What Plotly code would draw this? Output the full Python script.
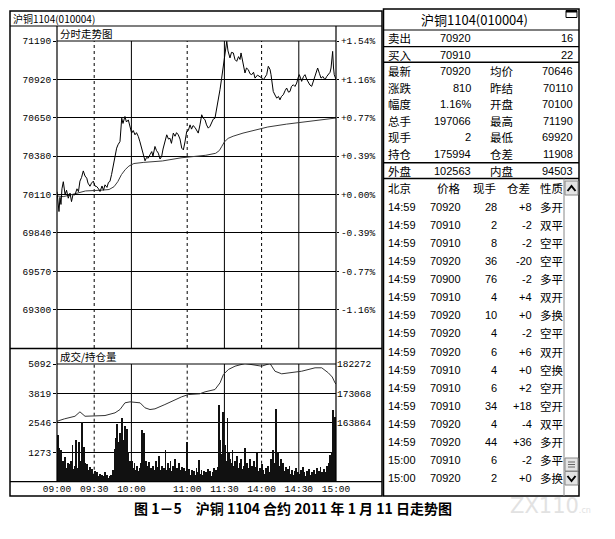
import plotly.graph_objects as go

W, H = 615, 539

# ---------------- data ----------------
time_ticks = [0, 30, 60, 105, 135, 165, 195, 225]          # trading minutes since 09:00
time_labels = ["09:00", "09:30", "10:00", "11:00", "11:30", "14:00", "14:30", "15:00"]
price_ticks = [71190, 70920, 70650, 70380, 70110, 69840, 69570, 69300]
pct_labels = ["+1.54%", "+1.16%", "+0.77%", "+0.39%", "+0.00%", "-0.39%", "-0.77%", "-1.16%"]
vol_ticks = [5092, 3819, 2546, 1273]
oi_ticks = [182272, 173068, 163864]

price_min = [0, 0.8, 1.6, 2.4, 3.2, 4, 5.1, 6.5, 7.7, 9.1, 10.5, 11.7, 12.9, 14.5, 16.1, 17.3, 18.5,
             19.8, 21.2, 22.6, 24, 25, 26.6, 27.8, 29.3, 30.6, 32, 33.5, 34.7, 36.3, 37.5, 38.7, 40.3,
             41.5, 42.7, 44, 45.4, 46.8, 48.1, 49.2, 50.8, 52.2, 53.2, 54.8, 56, 57.5, 58.9, 60.2,
             61.5, 62.9, 64.1, 65.6, 66.9, 68.3, 69.4, 71, 72.2, 73.6, 75, 76.4, 77.4, 79, 80.2, 81.7,
             83.1, 84.4, 85.5, 87.1, 88.5, 89.9, 91.1, 92.3, 93.8, 95.2, 96.4, 97.8, 99.2, 100.6,
             101.9, 103.2, 104.6, 105.9, 107.3, 108.5, 109.7, 111.3, 112.5, 113.9, 115.3, 116.7,
             117.7, 119.4, 120.6, 122, 123.4, 124.8, 126, 127.4, 128.6, 130.1, 131.5, 132.8, 133.9,
             134.9, 135.9, 136.9, 137.9, 139.5, 140.7, 142.2, 143.5, 144.9, 146.4, 147.6, 148.4, 150,
             151.6, 152.8, 154.3, 155.6, 157, 158.5, 159.7, 161.7, 163.7, 165.1, 166.4, 167.7, 169.1,
             170.4, 171.8, 172.6, 173.4, 174.4, 175.8, 177.2, 178.6, 179.8, 181, 182.5, 183.9, 185.2,
             186.7, 187.9, 189.1, 190.6, 191.9, 193.3, 194.4, 195.4, 196.4, 197.3, 198.8, 200, 201.4,
             202.7, 204, 205.4, 206.7, 208.1, 209.3, 210.2, 211.7, 212.9, 214.5, 216.1, 217.5, 218.8,
             220.2, 221, 221.8, 222.3, 223, 223.6, 224.6, 225]
price_val = [70130, 70060, 69990, 70090, 70040, 70150, 70200, 70110, 70140, 70084, 70120, 70060, 70110,
             70107, 70150, 70130, 70204, 70230, 70276, 70240, 70225, 70190, 70168, 70190, 70204, 70170,
             70166, 70150, 70131, 70170, 70140, 70178, 70160, 70195, 70202, 70250, 70318, 70380, 70436,
             70460, 70483, 70647, 70610, 70659, 70620, 70635, 70580, 70542, 70560, 70530, 70545, 70518,
             70480, 70436, 70390, 70347, 70370, 70366, 70390, 70412, 70380, 70448, 70420, 70401, 70360,
             70378, 70430, 70480, 70530, 70500, 70506, 70470, 70542, 70520, 70545, 70530, 70500, 70436,
             70424, 70480, 70553, 70560, 70600, 70570, 70595, 70582, 70560, 70542, 70600, 70671, 70650,
             70635, 70600, 70577, 70590, 70612, 70640, 70647, 70700, 70776, 70850, 70929, 71000, 71093,
             71150, 71188, 71120, 71071, 71110, 71106, 71060, 71047, 71080, 71060, 71106, 71030, 70965,
             71000, 70988, 70960, 70953, 70970, 70929, 70950, 70941, 70930, 70917, 70940, 70953, 71012,
             70990, 70953, 70890, 70835, 70810, 70788, 70800, 70776, 70800, 70812, 70840, 70859, 70830,
             70835, 70870, 70882, 70870, 70894, 70930, 70953, 70930, 70906, 70940, 70953, 70920, 70894,
             70880, 70871, 70910, 70953, 70980, 71000, 70960, 70929, 70940, 70917, 70940, 70953, 70970,
             71000, 71060, 71117, 71000, 70953, 70929, 70920]

avg_min = [0, 5, 10, 16, 23, 35, 42, 46, 49, 52, 55, 58, 62, 70, 85, 100, 110, 120, 128, 131, 133,
           135, 138, 142, 150, 160, 170, 185, 200, 212, 220, 225]
avg_val = [70100, 70095, 70105, 70120, 70135, 70140, 70145, 70165, 70200, 70250, 70285, 70310, 70328,
           70336, 70346, 70368, 70378, 70386, 70400, 70420, 70450, 70480, 70505, 70520, 70542, 70565,
           70585, 70605, 70622, 70633, 70640, 70648]

oi_min = [0, 6, 14.5, 18.5, 22.6, 30.6, 38.7, 46.8, 50.8, 54.8, 58.9, 67, 71, 75, 79, 87, 95, 100.5,
          106, 115, 119.4, 127.4, 131.5, 134.2, 138.2, 143.6, 151.6, 159.7, 165, 171.8, 175.8, 181.2,
          191.9, 197.3, 208.1, 213.5, 218.8, 222, 224.2, 225]
oi_val = [164365, 165116, 165930, 167307, 165930, 166150, 166150, 166994, 168027, 170124, 170437,
          170124, 168559, 168027, 168246, 169592, 171157, 172002, 172722, 172941, 173567, 174287,
          176384, 178983, 180547, 181591, 182425, 181800, 181591, 182425, 180014, 179200, 179700,
          180014, 181080, 181080, 179514, 178200, 176384, 175994]

volume = [2000, 1450, 1300, 1380, 900, 700, 1050, 600, 800, 650,
          750, 900, 1600, 550, 700, 1800, 600, 1700, 500, 900,
          2600, 1500, 800, 600, 750, 500, 650, 400, 550, 350,
          450, 300, 400, 250, 350, 200, 300, 250, 400, 200,
          300, 150, 250, 300, 200, 500, 1400, 1900, 2500, 1700,
          2100, 1500, 2740, 1800, 2400, 1600, 2300, 1300, 900, 700,
          900, 600, 800, 500, 700, 450, 600, 800, 2240, 1500,
          2100, 900, 700, 500, 850, 600, 400, 700, 500, 900,
          450, 650, 1100, 500, 700, 400, 600, 1370, 500, 800,
          600, 900, 450, 700, 500, 1000, 600, 400, 800, 500,
          650, 350, 600, 450, 1730, 400, 550, 300, 500, 350,
          450, 300, 600, 400, 940, 350, 500, 300, 450, 250,
          400, 550, 300, 450, 250, 400, 600, 350, 500, 650,
          3320, 1800, 1200, 3030, 1080, 1600, 900, 2740, 1300, 1000,
          800, 1370, 700, 900, 650, 1100, 600, 800, 1000, 550,
          700, 1440, 500, 800, 600, 1000, 450, 700, 900, 500,
          650, 1230, 450, 600, 400, 750, 500, 350, 600, 450,
          700, 400, 1000, 600, 1370, 800, 3130, 1150, 1300, 700,
          1000, 550, 800, 450, 650, 400, 550, 700, 350, 500,
          300, 450, 600, 250, 400, 350, 500, 300, 650, 400,
          250, 450, 350, 550, 300, 400, 250, 500, 350, 600,
          300, 450, 650, 400, 300, 550, 400, 700, 500, 800,
          1150, 1300, 3100, 2200, 2800]
vol_min = [i + 0.5 for i in range(len(volume))]

title_text = "沪铜1104(010004)"
quote_labels_l = ["卖出", "买入", "最新", "涨跌", "幅度", "总手", "现手", "持仓", "外盘"]
quote_values_l = ["70920", "70910", "70920", "810", "1.16%", "197066", "2", "175994", "102563"]
quote_labels_r = ["", "", "均价", "昨结", "开盘", "最高", "最低", "仓差", "内盘"]
quote_values_r = ["16", "22", "70646", "70110", "70100", "71190", "69920", "11908", "94503"]

tick_header = ["北京", "价格", "现手", "仓差", "性质"]
tick_time = ["14:59"] * 14 + ["15:00"] * 2
tick_price = [70920, 70910, 70910, 70920, 70900, 70910, 70920, 70920, 70920, 70910, 70910, 70910,
              70920, 70920, 70910, 70920]
tick_vol = [28, 2, 8, 36, 76, 4, 10, 4, 6, 4, 6, 34, 4, 44, 6, 2]
tick_oi = ["+8", "-2", "-2", "-20", "-2", "+4", "+0", "-2", "+6", "+0", "+2", "+18", "-4", "+36",
           "-2", "+0"]
tick_type = ["多开", "双平", "空平", "空平", "多平", "双开", "多换", "空平", "双开", "空换", "空开",
             "空开", "双平", "多开", "多平", "多换"]

caption = "图 1－5　沪铜 1104 合约 2011 年 1 月 11 日走势图"

# ---------------- figure ----------------
def px(x):
    return x / W


def py(y):
    return 1 - y / H


CJK = "Noto Sans CJK SC"
MONO = "Liberation Mono"
SANS = "Liberation Sans"

fig = go.Figure()
fig.add_trace(go.Scatter(x=avg_min, y=avg_val, mode="lines", line=dict(color="#3a3a3a", width=1),
                         xaxis="x", yaxis="y", hoverinfo="skip"))
fig.add_trace(go.Scatter(x=price_min, y=price_val, mode="lines", line=dict(color="black", width=1),
                         xaxis="x", yaxis="y", hoverinfo="skip"))
fig.add_trace(go.Scatter(x=[0], y=[price_ticks[4]], mode="markers", marker=dict(opacity=0),
                         xaxis="x", yaxis="y2", hoverinfo="skip"))
fig.add_trace(go.Bar(x=vol_min, y=volume, width=0.75, marker=dict(color="#111", line=dict(width=0)),
                     xaxis="x2", yaxis="y3", hoverinfo="skip"))
fig.add_trace(go.Scatter(x=oi_min, y=oi_val, mode="lines", line=dict(color="#333", width=1),
                         xaxis="x2", yaxis="y4", hoverinfo="skip"))

tickfont = dict(family=MONO, size=9.5, color="black")
dom_x = [px(57), px(336)]
fig.update_layout(
    width=W, height=H, margin=dict(l=0, r=0, t=0, b=0, autoexpand=False),
    paper_bgcolor="white", plot_bgcolor="white", showlegend=False,
    xaxis=dict(domain=dom_x, range=[0, 225], showgrid=False, zeroline=False, showticklabels=False,
               anchor="y", fixedrange=True, automargin=False),
    yaxis=dict(domain=[py(348), py(41)], range=[69030, 71190], tickvals=price_ticks,
               ticktext=[str(v) for v in price_ticks],
               showgrid=True, gridcolor="black", gridwidth=1, zeroline=False, ticks="outside",
               ticklen=3, tickcolor="black", tickfont=tickfont, anchor="x", fixedrange=True,
               automargin=False),
    yaxis2=dict(overlaying="y", side="right", range=[69030, 71190], tickvals=price_ticks,
                ticktext=pct_labels, showgrid=False, zeroline=False, ticks="outside", ticklen=2,
                tickcolor="black", tickfont=tickfont, anchor="x", fixedrange=True, automargin=False),
    xaxis2=dict(domain=dom_x, range=[0, 225], tickvals=time_ticks, ticktext=time_labels,
                showgrid=False, zeroline=False, ticks="", tickfont=tickfont, anchor="y3",
                fixedrange=True, automargin=False),
    yaxis3=dict(domain=[py(481.7), py(364)], range=[0, 5092], tickvals=vol_ticks,
                ticktext=[str(v) for v in vol_ticks], showgrid=True,
                gridcolor="black", gridwidth=1, zeroline=False, ticks="outside", ticklen=3,
                tickcolor="black", tickfont=tickfont, anchor="x2", fixedrange=True, automargin=False),
    yaxis4=dict(overlaying="y3", side="right", range=[145456, 182272], tickvals=oi_ticks,
                ticktext=[str(v) for v in oi_ticks],
                showgrid=False, zeroline=False, ticks="", tickfont=tickfont, anchor="x2",
                fixedrange=True, automargin=False),
    bargap=0,
)

shapes = []


def hline(y, x0, x1, w=1, color="black"):
    shapes.append(dict(type="line", xref="paper", yref="paper", x0=px(x0), x1=px(x1), y0=py(y),
                       y1=py(y), line=dict(color=color, width=w)))


def vline(x, y0, y1, w=1, color="black"):
    shapes.append(dict(type="line", xref="paper", yref="paper", x0=px(x), x1=px(x), y0=py(y0),
                       y1=py(y1), line=dict(color=color, width=w)))


def rect(x0, y0, x1, y1, w=1, color="black", fill=None):
    shapes.append(dict(type="rect", xref="paper", yref="paper", x0=px(x0), x1=px(x1), y0=py(y1),
                       y1=py(y0), line=dict(color=color, width=w), fillcolor=fill))


# vertical time grid lines (dotted at 09:30/11:00/14:00, solid at 10:00/11:30/14:30)
for i, t in enumerate(time_ticks[1:-1]):
    dash = "dot" if i % 2 == 0 else "solid"
    for xr, y0, y1 in (("x", 348, 41), ("x2", 481.7, 364)):
        shapes.append(dict(type="line", xref=xr, yref="paper", x0=t, x1=t, y0=py(y0), y1=py(y1),
                           line=dict(color="black", width=1, dash=dash), layer="below"))

# left frame
rect(10, 11, 382, 496, w=1.5)
hline(26, 10, 382, w=1.2)
vline(57, 26, 481.7, w=1.2)
vline(336, 26, 481.7, w=1.2)
hline(41, 57, 336)
hline(348.5, 10, 382, w=1.5)
hline(364, 57, 336)
hline(481.7, 10, 382, w=1.2)

# right panel frame
rect(383.5, 9, 579, 496, w=1.5)
hline(30, 383.5, 579, w=1.2)
hline(46.7, 383.5, 579, w=1.2)
hline(62.3, 383.5, 579, w=1.5)
hline(162.7, 383.5, 579, w=1.5)
hline(178.5, 383.5, 579, w=1.5)
vline(564, 178.5, 496, color="#888")
# window icon
rect(566, 10.5, 577, 17.5, w=1)
hline(11.5, 566, 577, w=2)
# scroll buttons
rect(565, 181, 578, 195, color="#888", fill="#e4e4e4")
rect(565, 458, 578, 471, color="#888", fill="#e4e4e4")
rect(565, 471.5, 578, 485, color="#888", fill="#e4e4e4")
for yy in (462, 464.5, 467):
    hline(yy, 568, 575, color="#666")
shapes.append(dict(type="path", xref="paper", yref="paper",
                   path="M %f,%f L %f,%f L %f,%f" % (px(567.5), py(191), px(571.5), py(186),
                                                     px(575.5), py(191)),
                   line=dict(color="black", width=2)))
shapes.append(dict(type="path", xref="paper", yref="paper",
                   path="M %f,%f L %f,%f L %f,%f" % (px(567.5), py(476), px(571.5), py(481),
                                                     px(575.5), py(476)),
                   line=dict(color="black", width=2)))

anns = []


def txt(x, y, s, anchor="left", size=11, family=CJK, color="black", bold=False):
    anns.append(dict(xref="paper", yref="paper", x=px(x), y=py(y), text=("<b>%s</b>" % s) if bold else s,
                     showarrow=False, xanchor=anchor, yanchor="middle",
                     font=dict(family=family, size=size, color=color)))


txt(10.5, 18.5, title_text, size=10)
txt(57.5, 33.5, "分时走势图", size=10.5)
txt(57.5, 356.5, "成交/持仓量", size=10.5)
txt(474, 19.5, title_text, anchor="center", size=13)

quote_y = [38.3, 54.5, 71, 87.7, 104.3, 120.7, 137, 153.5, 171]
for i, yy in enumerate(quote_y):
    txt(386, yy, quote_labels_l[i], size=11.5)
    txt(473, yy, quote_values_l[i], anchor="right", size=11, family=SANS)
    if quote_labels_r[i]:
        txt(488, yy, quote_labels_r[i], size=11.5)
    txt(575, yy, quote_values_r[i], anchor="right", size=11, family=SANS)

hy = 188.3
txt(386, hy, tick_header[0], size=11.5)
txt(463, hy, tick_header[1], anchor="right", size=11.5)
txt(498, hy, tick_header[2], anchor="right", size=11.5)
txt(532, hy, tick_header[3], anchor="right", size=11.5)
txt(538, hy, tick_header[4], size=11.5)
for k in range(len(tick_time)):
    yy = 206.7 + 18.1 * k
    txt(386, yy, tick_time[k], size=11, family=SANS)
    txt(463, yy, str(tick_price[k]), anchor="right", size=11, family=SANS)
    txt(498.5, yy, str(tick_vol[k]), anchor="right", size=11, family=SANS)
    txt(534, yy, tick_oi[k], anchor="right", size=11, family=SANS)
    txt(538, yy, tick_type[k], size=11.5)

txt(293, 507.5, caption, anchor="center", size=14, bold=True)
txt(550, 506, "ZX110<span style='font-size:8px'>.cn</span>", anchor="center", size=21,
    family="DejaVu Sans", color="#e2e2e2")

fig.update_layout(shapes=shapes, annotations=anns)
fig.write_html("out.html", config={"displayModeBar": False},
               post_script="document.body.style.margin='0px';document.body.style.overflow='hidden';")
